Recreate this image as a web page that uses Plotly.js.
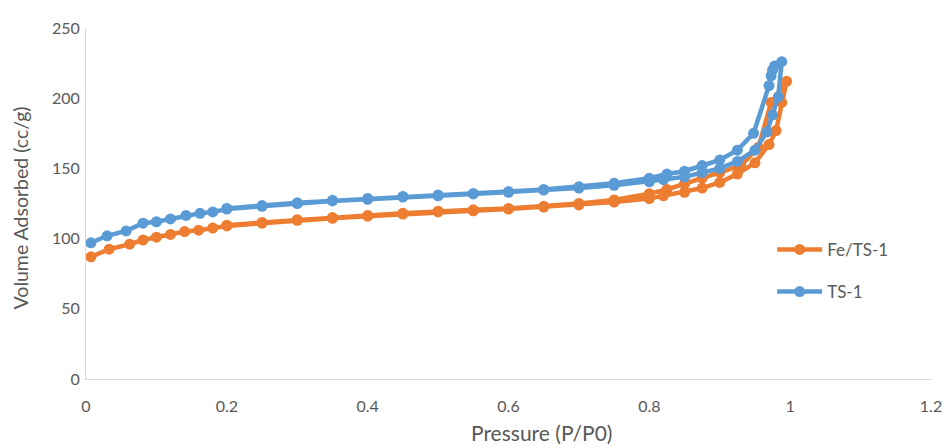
<!DOCTYPE html>
<html>
<head>
<meta charset="utf-8">
<script src="https://cdn.plot.ly/plotly-3.0.1.min.js"></script>
<style>
  html, body { margin: 0; padding: 0; background: #fff; }
  #chart { width: 947px; height: 446px; }
</style>
</head>
<body>
<div id="chart"></div>
<script>
// Fe/TS-1 isotherm: adsorption branch followed by desorption branch
const feP = [0.007, 0.033, 0.062, 0.081, 0.10, 0.12, 0.14, 0.16, 0.18, 0.20,
  0.25, 0.30, 0.35, 0.40, 0.45, 0.50, 0.55, 0.60, 0.65, 0.70, 0.75, 0.80,
  0.82, 0.85, 0.875, 0.90, 0.925, 0.95, 0.97, 0.98, 0.988, 0.995,
  0.973, 0.955, 0.93, 0.90, 0.875, 0.85, 0.825, 0.80, 0.75, 0.70, 0.65,
  0.60, 0.55, 0.50, 0.45, 0.40, 0.35, 0.30, 0.25, 0.20];
const feV = [87, 92.5, 96, 99, 101, 103, 105, 106, 107.5, 109,
  111, 113, 114.5, 116, 117.5, 119, 119.8, 121, 122.5, 124, 126, 128.5,
  130.5, 133, 136, 140, 146, 154, 167, 177, 197, 212,
  197, 165, 152, 147, 143, 139, 135, 132, 127.5, 125, 123,
  121.5, 120.5, 119.5, 118, 116.5, 115, 113.5, 111.5, 109.5];

// TS-1 isotherm: adsorption branch followed by desorption branch
const tsP = [0.007, 0.03, 0.057, 0.081, 0.10, 0.12, 0.142, 0.162, 0.18, 0.20,
  0.25, 0.30, 0.35, 0.40, 0.45, 0.50, 0.55, 0.60, 0.65, 0.70, 0.75, 0.80,
  0.82, 0.85, 0.875, 0.90, 0.925, 0.95, 0.967, 0.975, 0.983, 0.988,
  0.978, 0.975, 0.973, 0.970, 0.948, 0.925, 0.90, 0.875, 0.85, 0.825, 0.80,
  0.75, 0.70, 0.65, 0.60, 0.55, 0.50, 0.45, 0.40, 0.35, 0.30, 0.25, 0.20];
const tsV = [97, 102, 105.5, 111, 112, 114, 116.5, 118, 119, 121,
  123, 125, 126.8, 128, 129.6, 130.5, 131.8, 133, 134.6, 136, 138, 140.5,
  142, 144, 147, 150, 155, 163, 176, 188, 201, 226,
  223, 220, 216, 209, 175, 163, 156, 152, 148, 146, 143,
  139.5, 137, 135, 133.5, 132.2, 131, 130, 128.6, 127.3, 125.5, 123.5, 121.5];

const xTicks = [0, 0.2, 0.4, 0.6, 0.8, 1, 1.2];
const yTicks = [0, 50, 100, 150, 200, 250];

const ORANGE = '#ED7D31';
const BLUE = '#5B9BD5';
const GREY = '#595959';
const FONT = 'Lato, "Liberation Sans", sans-serif';

const traces = [
  {
    x: feP, y: feV, name: 'Fe/TS-1', type: 'scatter', mode: 'lines+markers',
    line: { color: ORANGE, width: 4.5 },
    marker: { color: ORANGE, size: 11 },
    legendgroup: 'fe'
  },
  {
    x: tsP, y: tsV, name: 'TS-1', type: 'scatter', mode: 'lines+markers',
    line: { color: BLUE, width: 4.5 },
    marker: { color: BLUE, size: 11 },
    legendgroup: 'ts'
  }
];

const layout = {
  width: 947, height: 446,
  margin: { l: 86, r: 16, t: 28, b: 67 },
  paper_bgcolor: '#fff', plot_bgcolor: '#fff',
  font: { family: FONT, size: 16, color: GREY },
  showlegend: true,
  legend: {
    x: 0.812, y: 0.308, xanchor: 'left', yanchor: 'middle',
    tracegroupgap: 17, itemwidth: 45,
    font: { family: FONT, size: 17, color: GREY },
    bgcolor: 'rgba(0,0,0,0)'
  },
  xaxis: {
    range: [0, 1.2], tickvals: xTicks, ticktext: xTicks.map(String),
    showgrid: false, zeroline: false,
    showline: true, linecolor: '#d9d9d9', linewidth: 1,
    ticks: '', ticklen: 0, ticklabelstandoff: 13,
    tickfont: { family: FONT, size: 16, color: GREY }
  },
  yaxis: {
    range: [0, 250], tickvals: yTicks, ticktext: yTicks.map(String),
    showgrid: false, zeroline: false,
    showline: true, linecolor: '#d9d9d9', linewidth: 1,
    ticks: '', ticklen: 0, ticklabelstandoff: 2,
    tickfont: { family: FONT, size: 16, color: GREY }
  },
  annotations: [
    {
      text: 'Pressure (P/P0)', xref: 'paper', yref: 'paper',
      x: 0.539, y: 0, xanchor: 'center', yanchor: 'middle', yshift: -53,
      showarrow: false, font: { family: FONT, size: 21, color: GREY }
    },
    {
      text: 'Volume Adsorbed (cc/g)', xref: 'paper', yref: 'paper',
      x: 0, y: 0.486, xanchor: 'center', yanchor: 'middle', xshift: -66,
      textangle: -90,
      showarrow: false, font: { family: FONT, size: 19.5, color: GREY }
    }
  ]
};

Plotly.newPlot('chart', traces, layout, { displayModeBar: false, staticPlot: true });
</script>
</body>
</html>
